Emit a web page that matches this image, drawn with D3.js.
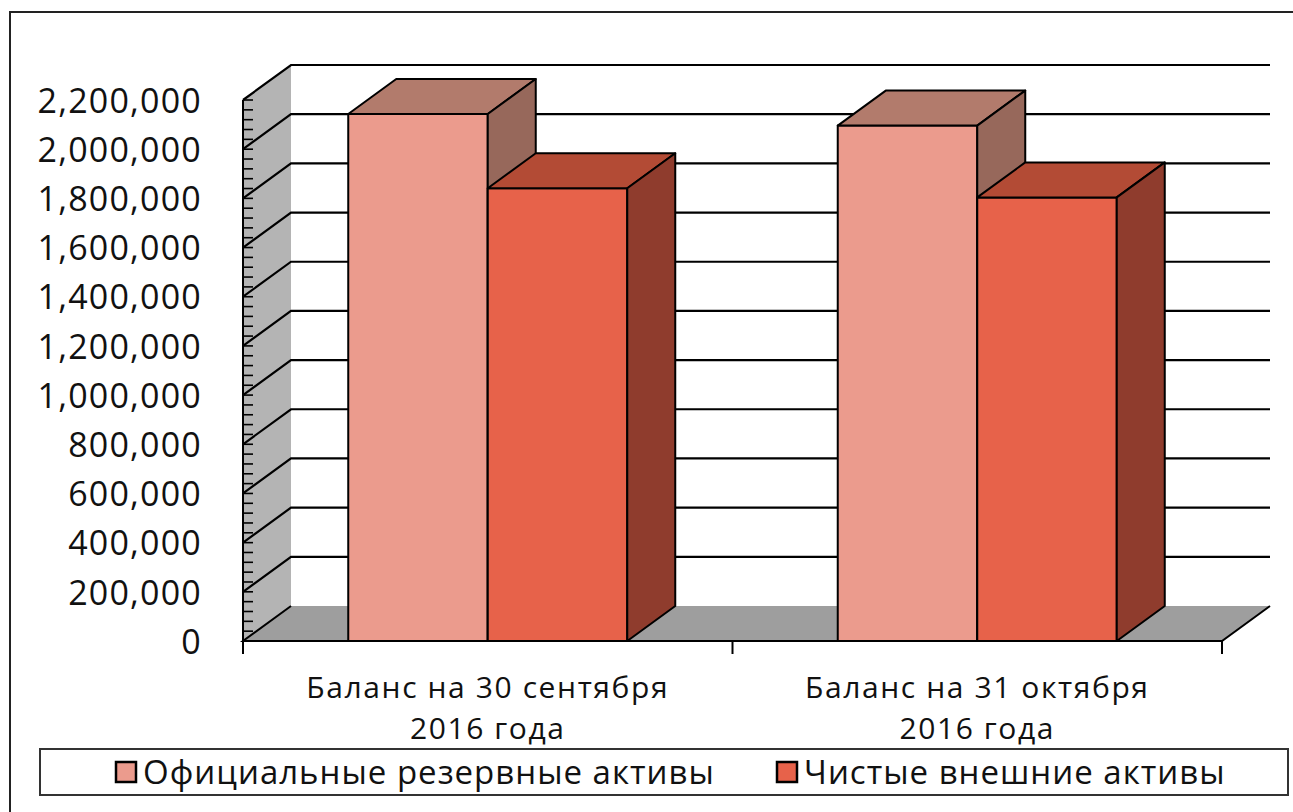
<!DOCTYPE html>
<html><head><meta charset="utf-8">
<script src="https://cdn.jsdelivr.net/npm/d3@7/dist/d3.min.js"></script>
<style>html,body{margin:0;padding:0;background:#fff;}svg{display:block;}</style>
</head><body><svg id="c" width="1293" height="812"></svg>
<script>
const categories = ["Баланс на 30 сентября 2016 года", "Баланс на 31 октября 2016 года"];
const categoryLines = [["Баланс на 30 сентября", "2016 года"], ["Баланс на 31 октября", "2016 года"]];
const seriesNames = ["Официальные резервные активы", "Чистые внешние активы"];
const officialReserves = [2143000, 2096000];
const netForeignAssets = [1841000, 1804000];
const yTickValues = [0, 200000, 400000, 600000, 800000, 1000000, 1200000, 1400000, 1600000, 1800000, 2000000, 2200000];
const yMinorTicks = d3.range(0, 2200001, 40000);

const colors = [
  {front: "#EB9B8D", top: "#B27B6C", side: "#97685B"},
  {front: "#E7624A", top: "#B34B35", side: "#8F3C2D"}
];
const FONT = "'Open Sans', 'Noto Sans', sans-serif";

const svg = d3.select("#c");
const left = 243, right = 1222, base = 641, topY = 100;
const DX = 48, DY = -35;

const y = d3.scaleLinear().domain([0, 2200000]).range([base, topY]);
const x = d3.scaleBand().domain(categories).range([left, right]).paddingInner(0.43).paddingOuter(0.215);
const xs = d3.scaleBand().domain(seriesNames).range([0, x.bandwidth()]);

// chart border
svg.append("path").attr("d", "M10,820 L10,12 L1300,12").attr("fill", "none").attr("stroke", "#222").attr("stroke-width", 2);

// left side wall
svg.append("path")
  .attr("d", `M${left},${base} L${left},${y(2200000)} L${left+DX},${y(2200000)+DY} L${left+DX},${base+DY} Z`)
  .attr("fill", "#b4b4b4");
// floor
svg.append("path")
  .attr("d", `M${left},${base} L${right},${base} L${right+DX},${base+DY} L${left+DX},${base+DY} Z`)
  .attr("fill", "#9e9e9e");
svg.append("path")
  .attr("d", `M${left+DX},${base+DY} L${left},${base} L${right},${base} L${right+DX},${base+DY}`)
  .attr("fill", "none").attr("stroke", "#000").attr("stroke-width", 2);

// gridlines on back wall and side wall
const grid = yTickValues.filter(d => d > 0);
svg.append("g").selectAll("path").data(grid).join("path")
  .attr("d", d => `M${left},${y(d)} L${left+DX},${y(d)+DY} L${right+DX},${y(d)+DY}`)
  .attr("fill", "none").attr("stroke", "#000").attr("stroke-width", 2.2);

// minor ticks
svg.append("g").selectAll("line").data(yMinorTicks).join("line")
  .attr("x1", left).attr("x2", left + 10).attr("y1", d => y(d)).attr("y2", d => y(d))
  .attr("stroke", "#000").attr("stroke-width", 1.6);

// y axis line
svg.append("line").attr("x1", left).attr("x2", left).attr("y1", y(2200000)).attr("y2", base + 13)
  .attr("stroke", "#000").attr("stroke-width", 2);

// y axis labels
const yAxis = svg.append("g").attr("transform", `translate(${left},0)`)
  .call(d3.axisLeft(y).tickValues(yTickValues).tickFormat(d3.format(",")).tickSize(0).tickPadding(41));
yAxis.select(".domain").remove();
yAxis.selectAll("text").attr("font-family", FONT).attr("font-size", 34).attr("letter-spacing", 1.2)
  .attr("fill", "#111").attr("dy", "0.36em");

// x axis ticks
const xTicks = [left, left + x.step(), right];
svg.append("g").selectAll("line").data(xTicks).join("line")
  .attr("x1", d => d).attr("x2", d => d).attr("y1", base).attr("y2", base + 13)
  .attr("stroke", "#000").attr("stroke-width", 2);

// bars
const values = [officialReserves, netForeignAssets];
const gBars = svg.append("g");
categories.forEach((cat, ci) => {
  seriesNames.forEach((s, si) => {
    const v = values[si][ci];
    const x0 = x(cat) + xs(s), x1 = x0 + xs.bandwidth();
    const yt = y(v), yb = y(0);
    const c = colors[si];
    const g = gBars.append("g").attr("stroke", "#000").attr("stroke-width", 2).attr("stroke-linejoin", "round");
    g.append("path").attr("d", `M${x0},${yb} L${x0},${yt} L${x1},${yt} L${x1},${yb} Z`).attr("fill", c.front);
    g.append("path").attr("d", `M${x0},${yt} L${x0+DX},${yt+DY} L${x1+DX},${yt+DY} L${x1},${yt} Z`).attr("fill", c.top);
    g.append("path").attr("d", `M${x1},${yt} L${x1+DX},${yt+DY} L${x1+DX},${yb+DY} L${x1},${yb} Z`).attr("fill", c.side);
  });
});

// category labels
categories.forEach((cat, ci) => {
  const cx = x(cat) + x.bandwidth() / 2;
  categoryLines[ci].forEach((line, li) => {
    svg.append("text").attr("x", cx).attr("y", 698 + li * 41)
      .attr("text-anchor", "middle").attr("font-family", FONT).attr("font-size", 30)
      .attr("letter-spacing", 1.6).attr("fill", "#111")
      .text(line);
  });
});

// legend
svg.append("rect").attr("x", 40).attr("y", 749).attr("width", 1248).attr("height", 46)
  .attr("fill", "#fff").attr("stroke", "#333").attr("stroke-width", 2);
const legendX = [116, 777];
seriesNames.forEach((s, si) => {
  svg.append("rect").attr("x", legendX[si]).attr("y", 762).attr("width", 20).attr("height", 20)
    .attr("fill", colors[si].front).attr("stroke", "#000").attr("stroke-width", 2.5);
  svg.append("text").attr("x", legendX[si] + 27).attr("y", 784)
    .attr("font-family", FONT).attr("font-size", 33).attr("letter-spacing", 1.0)
    .attr("fill", "#111").text(s);
});
</script></body></html>
